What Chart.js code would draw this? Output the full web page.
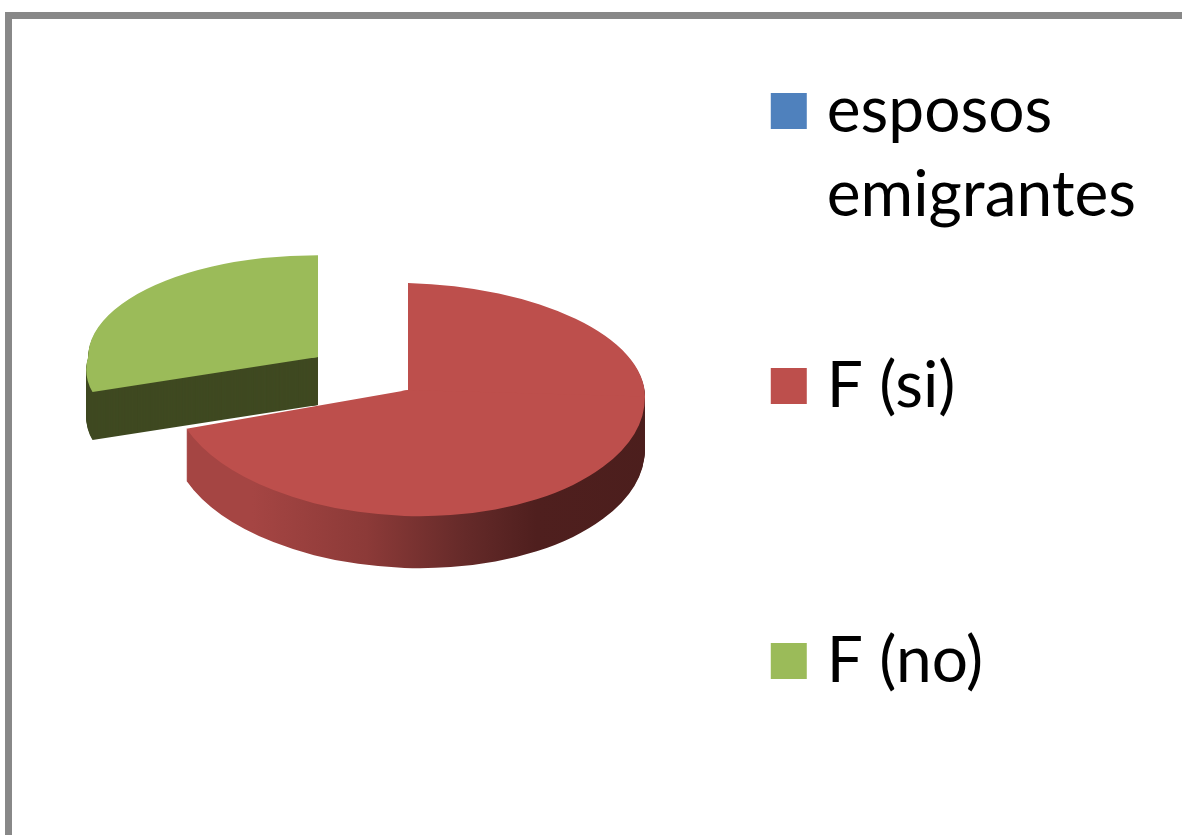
<!DOCTYPE html>
<html>
<head>
<meta charset="utf-8">
<script src="https://cdn.jsdelivr.net/npm/chart.js@4/dist/chart.umd.min.js"></script>
<style>
  html, body { margin: 0; padding: 0; width: 1182px; height: 835px; overflow: hidden; background: #fff; }
  #frame { position: absolute; left: 5px; top: 12px; right: 0; bottom: 0; border-left: 7px solid #888; border-top: 7px solid #888; }
  #wrap { position: absolute; left: 0; top: -28px; filter: blur(0.6px); }
</style>
</head>
<body>
<div id="frame"></div>
<div id="wrap"><canvas id="chart" width="1182" height="1100"></canvas></div>
<script>
// Chart data
const categories = [['esposos', 'emigrantes'], ['F (si)', ''], ['F (no)', '']];
const sliceValues = [0, 9, 4];
const sliceColors = ['#4f81bd', '#bd4f4c', '#9bbb59'];

const OFFSET_TOP = 28; // canvas is moved up by this much in the page
const RADIUS = 237;

// Where each slice sits on the page, the pie is squashed to look 3D
const faces = {
  1: { x: 408, y: 390, scale: 1, up: 107, down: 126, depth: 52, shear: 0.027, slant: 0 },
  2: { x: 318, y: 357, scale: 0.97, up: 105, down: 102, depth: 48, shear: 0, slant: -0.3 }
};

function drawFace(ctx, arc, face, shift, color) {
  const saved = arc.options;
  if (color) arc.options = { ...saved, backgroundColor: color };

  [[-1, face.up], [1, face.down]].forEach(([side, ry]) => {
    ctx.save();
    ctx.translate(face.x, face.y + OFFSET_TOP + shift);
    ctx.transform(1, face.shear, 0, 1, 0, 0);
    ctx.beginPath();
    // upper half runs 1px past the seam so no line shows between the halves
    ctx.rect(-1200, side < 0 ? -1200 : 0, 2400, side < 0 ? 1201 : 1200);
    ctx.clip();
    if (side > 0) ctx.transform(1, 0, face.slant, 1, 0, 0);
    ctx.scale(face.scale, face.scale * ry / RADIUS);
    ctx.translate(-arc.x, -arc.y);
    arc.draw(ctx);
    ctx.restore();
  });

  arc.options = saved;
}

const pie3d = {
  id: 'pie3d',
  beforeDatasetsDraw(chart) {
    const ctx = chart.ctx;
    const arcs = chart.getDatasetMeta(0).data;

    // side wall of the red slice fades to dark from left to right
    const wall = ctx.createLinearGradient(187, 0, 645, 0);
    wall.addColorStop(0, '#a54543');
    wall.addColorStop(0.25, '#8c3a38');
    wall.addColorStop(0.465, '#652a29');
    wall.addColorStop(0.62, '#4f1f1e');
    wall.addColorStop(1, '#4a1e1c');

    // green goes first, the red slice overlaps it
    for (let d = faces[2].depth; d > 0; d--) drawFace(ctx, arcs[2], faces[2], d, '#3f4921');
    drawFace(ctx, arcs[2], faces[2], 0);

    for (let d = faces[1].depth; d > 0; d--) drawFace(ctx, arcs[1], faces[1], d, wall);
    drawFace(ctx, arcs[1], faces[1], 0);

    return false;
  }
};

new Chart(document.getElementById('chart'), {
  type: 'pie',
  data: {
    labels: categories,
    datasets: [{
      data: sliceValues,
      backgroundColor: sliceColors,
      borderWidth: 0,
      radius: RADIUS
    }]
  },
  options: {
    responsive: false,
    animation: false,
    layout: { padding: { left: 10, right: 36, top: 0, bottom: 0 } },
    plugins: {
      tooltip: { enabled: false },
      legend: {
        position: 'right',
        align: 'start',
        labels: {
          boxWidth: 12,
          boxHeight: 12,
          padding: 107,
          color: '#000',
          font: { family: 'Lato', size: 64, lineHeight: 1.3125 },
          generateLabels(chart) {
            // thick same colour outline: bigger box, same text position
            return Chart.overrides.doughnut.plugins.legend.labels.generateLabels(chart).map(item => ({
              ...item,
              lineWidth: 24,
              strokeStyle: item.fillStyle
            }));
          }
        }
      }
    }
  },
  plugins: [pie3d]
});
</script>
</body>
</html>
